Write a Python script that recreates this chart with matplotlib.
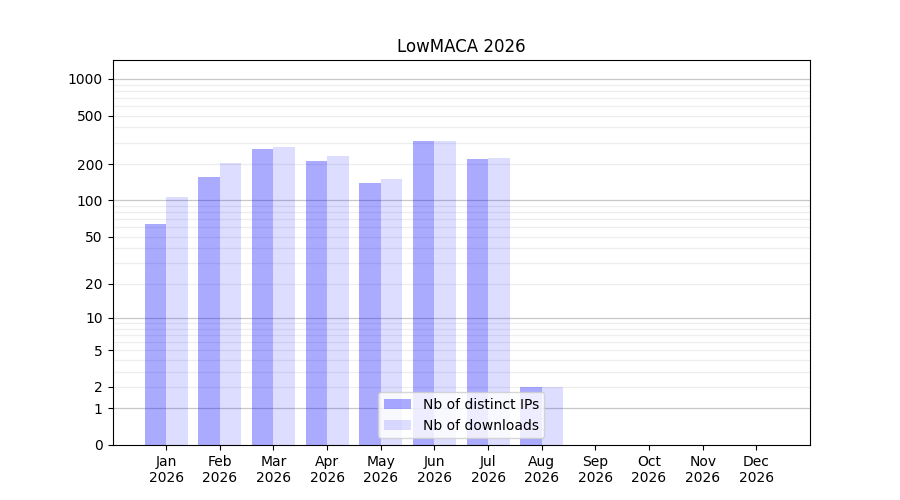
import numpy as np
import matplotlib.pyplot as plt
from matplotlib.ticker import FixedLocator, FixedFormatter

months = ['Jan', 'Feb', 'Mar', 'Apr', 'May', 'Jun', 'Jul', 'Aug', 'Sep', 'Oct', 'Nov', 'Dec']
year = 2026
distinct_ips = [64, 156, 266, 212, 140, 309, 220, 2, 0, 0, 0, 0]
downloads = [107, 204, 276, 233, 150, 308, 225, 2, 0, 0, 0, 0]
ytick_values = [0, 1, 2, 5, 10, 20, 50, 100, 200, 500, 1000]


def forward(v):
    return np.log10(np.asarray(v, dtype=float) + 1)


def inverse(v):
    return 10 ** np.asarray(v, dtype=float) - 1


fig, ax = plt.subplots(figsize=(9, 5), dpi=100)
x = np.arange(len(months))

ax.set_yscale('function', functions=(forward, inverse))

# grid first so it sits behind the bars
minor = [m * 10 ** k for k in range(0, 4) for m in range(2, 10)]
ax.yaxis.set_major_locator(FixedLocator(ytick_values))
ax.yaxis.set_major_formatter(FixedFormatter([str(v) for v in ytick_values]))
ax.yaxis.set_minor_locator(FixedLocator(minor))
ax.tick_params(axis='y', which='minor', length=0)
for v in [1, 10, 100, 1000]:
    ax.axhline(v, color='#c8c8c8', linewidth=0.9, zorder=0)
for v in minor:
    ax.axhline(v, color='#eeeeee', linewidth=0.9, zorder=0)

ax.bar(x - 0.2, distinct_ips, width=0.4, color='blue', alpha=1 / 3,
       label='Nb of distinct IPs', zorder=2)
ax.bar(x + 0.2, downloads, width=0.4, color='blue', alpha=0.135,
       label='Nb of downloads', zorder=2)

ax.set_xticks(x)
ax.set_xticklabels([f'{m}\n{year}' for m in months])
ax.set_xlim(-1, 12)
ax.set_ylim(0, 1430)
ax.set_title('LowMACA 2026')
ax.legend(loc='lower center')

plt.savefig('out.png')
